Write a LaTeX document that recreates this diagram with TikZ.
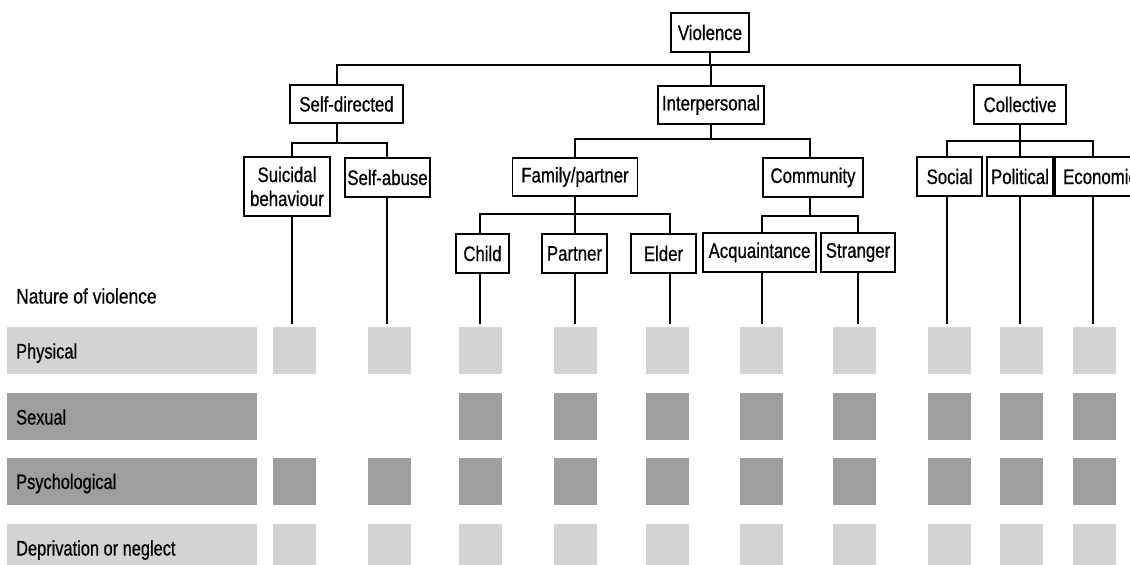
\documentclass[tikz,border=0pt]{standalone}
\usepackage{fontspec}
\setmainfont{Liberation Sans}[FakeStretch=0.8,FakeBold=0.6]
\newfontfamily\labfamily{Liberation Sans}[FakeStretch=0.78,FakeBold=0.6]
\newfontfamily\headfamily{Liberation Sans}[FakeStretch=0.83,FakeBold=0.6]
\definecolor{lightg}{HTML}{D3D3D3}
\definecolor{darkg}{HTML}{9E9E9E}
\begin{document}
\begin{tikzpicture}[x=1pt,y=-1pt,
  box/.style={draw=black,line width=1.6pt,inner sep=0pt,minimum height=39pt,align=center,font=\fontsize{21}{24}\selectfont},
  link/.style={line width=1.6pt},
  cell/.style={inner sep=0pt,minimum width=43pt,minimum height=47pt},
  bar/.style={inner sep=0pt,minimum width=250pt,minimum height=47pt},
  lab/.style={inner sep=0pt,anchor=base west,font=\labfamily\fontsize{21}{24}\selectfont},
  head/.style={inner sep=0pt,anchor=west,font=\headfamily\fontsize{21}{24}\selectfont}]
\clip (0,0) rectangle (1130,565);
\fill[white] (0,0) rectangle (1130,565);

% ---- tree nodes
\node[box,minimum width=78pt] (V) at (710,32.5) {Violence};
\node[box,minimum width=113pt,minimum height=38pt] (SD) at (346.5,104) {Self-directed};
\node[box,minimum width=106pt,minimum height=38pt] (IP) at (711,105) {Interpersonal};
\node[box,minimum width=92pt] (CO) at (1020,104.5) {Collective};

\node[box,minimum width=86pt,minimum height=59pt] (SU) at (287,186.5) {Suicidal\\behaviour};
\node[box,minimum width=85pt] (SA) at (387.5,177.5) {Self-abuse};
\node[box,minimum width=125pt,minimum height=38pt] (FP) at (575,177) {Family/partner};
\node[box,minimum width=100pt] (CM) at (813,177.5) {Community};
\node[box,minimum width=65pt] (SO) at (949.5,176.5) {Social};
\node[box,minimum width=66pt] (PO) at (1020,176.5) {Political};
\node[box,minimum width=90pt] (EC) at (1100,176.5) {Economic};

\node[box,minimum width=53pt] (CH) at (482.5,253.5) {Child};
\node[box,minimum width=65pt] (PA) at (574.5,253.5) {Partner};
\node[box,minimum width=65pt] (EL) at (663.5,253.5) {Elder};
\node[box,minimum width=113pt] (AC) at (759.5,252.5) {Acquaintance};
\node[box,minimum width=74pt] (ST) at (858,252.5) {Stranger};

% ---- junctions
\coordinate (j0) at (710,65);
\coordinate (j1) at (337,143);
\coordinate (j2) at (711,139);
\coordinate (j3) at (575,214);
\coordinate (j4) at (810,216);
\coordinate (j5) at (1020,141);

\draw[link] (V.south) -- (j0);
\draw[link] ([xshift=-9.5pt]SD.north) |- (j0) -| (CO.north);
\draw[link] (IP.north) -- (IP.north |- j0);

\draw[link] ([xshift=-9.5pt]SD.south) -- (j1);
\draw[link] ([xshift=5pt]SU.north) |- (j1) -| ([xshift=-0.5pt]SA.north);

\draw[link] (IP.south) -- (j2);
\draw[link] (FP.north) |- (j2) -| ([xshift=-3pt]CM.north);

\draw[link] (FP.south) -- (j3);
\draw[link] ([xshift=-2.5pt]CH.north) |- (j3) -| ([xshift=6.5pt]EL.north);
\draw[link] ([xshift=0.5pt]PA.north) -- (j3);

\draw[link] ([xshift=-3pt]CM.south) -- (j4);
\draw[link] ([xshift=2.5pt]AC.north) |- (j4) -| (ST.north);

\draw[link] (CO.south) -- (j5);
\draw[link] ([xshift=-2.5pt]SO.north) |- (j5) -| ([xshift=-7pt]EC.north);
\draw[link] (PO.north) -- (PO.north |- j5);

% ---- leaf drops
\coordinate (t1) at (292,324);
\coordinate (t2) at (387,324);
\coordinate (t3) at (480,324);
\coordinate (t4) at (575,324);
\coordinate (t5) at (670,324);
\coordinate (t6) at (762,324);
\coordinate (t7) at (858,324);
\coordinate (t8) at (947,324);
\coordinate (t9) at (1020,324);
\coordinate (t10) at (1093,324);
\draw[link] ([xshift=5pt]SU.south) -- (t1);
\draw[link] ([xshift=-0.5pt]SA.south) -- (t2);
\draw[link] ([xshift=-2.5pt]CH.south) -- (t3);
\draw[link] ([xshift=0.5pt]PA.south) -- (t4);
\draw[link] ([xshift=6.5pt]EL.south) -- (t5);
\draw[link] ([xshift=2.5pt]AC.south) -- (t6);
\draw[link] (ST.south) -- (t7);
\draw[link] ([xshift=-2.5pt]SO.south) -- (t8);
\draw[link] (PO.south) -- (t9);
\draw[link] ([xshift=-7pt]EC.south) -- (t10);

% ---- nature of violence grid
\node[head] (NV) at (16,296) {Nature of violence};
\foreach \r/\yy/\col/\first/\txt in {1/350.5/lightg/1/Physical, 2/416.5/darkg/3/Sexual, 3/481/darkg/1/Psychological, 4/547.5/lightg/1/Deprivation or neglect}{
  \node[bar,fill=\col] (row\r) at (132,\yy) {};
  \node[lab] (lab\r) at (16,{\yy+8}) {\txt};
  \foreach \c/\xx in {1/294.5,2/389.5,3/480.5,4/575,5/667.5,6/761.5,7/854.5,8/949,9/1021,10/1094}{
    \ifnum\c<\first\relax\else
      \node[cell,fill=\col] (sq\r-\c) at (\xx,\yy) {};
    \fi
  }
}
\end{tikzpicture}
\end{document}
